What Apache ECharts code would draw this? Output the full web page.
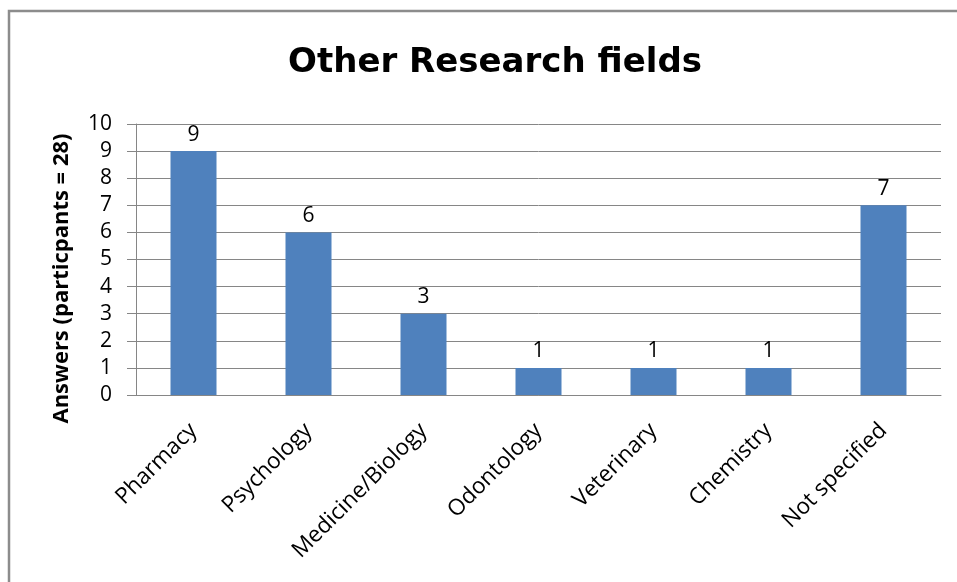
<!DOCTYPE html>
<html><head><meta charset="utf-8">
<script src="https://cdn.jsdelivr.net/npm/echarts@6/dist/echarts.min.js"></script>
<style>html,body{margin:0;padding:0;background:#fff}#c{width:957px;height:582px}</style>
</head><body><div id="c"></div>
<script>
const categories = ["Pharmacy","Psychology","Medicine/Biology","Odontology","Veterinary","Chemistry","Not specified"];
const answers = [9,6,3,1,1,1,7];
const yTicks = {min:0, max:10, interval:1};
const titleText = "Other Research fields";
const yName = "Answers (particpants = 28)";

const font = "'Open Sans', sans-serif";
const chart = echarts.init(document.getElementById('c'));
chart.setOption({
  animation:false,
  backgroundColor:'#fff',
  title:{text:titleText,left:490,top:41,textAlign:'center',
    textStyle:{fontFamily:"'DejaVu Sans', sans-serif",fontWeight:'bold',fontSize:34,color:'#000'}},
  graphic:[{type:'rect',shape:{x:9,y:11,width:1200,height:1200},
    style:{fill:'none',stroke:'#8c8c8c',lineWidth:2.5},silent:true}],
  grid:{left:136,right:16,top:124,bottom:187},
  xAxis:{type:'category',data:categories,
    axisLine:{lineStyle:{color:'#868686',width:1}},
    axisTick:{show:false},
    axisLabel:{rotate:45,interval:0,margin:32,fontFamily:font,fontSize:22.5,color:'#000'}},
  yAxis:{type:'value',min:yTicks.min,max:yTicks.max,interval:yTicks.interval,
    name:yName,nameLocation:'middle',nameGap:63,
    nameTextStyle:{fontFamily:font,fontWeight:'bold',fontSize:22,color:'#000',padding:[0,38,0,0]},
    axisLine:{show:true,lineStyle:{color:'#868686'}},
    axisTick:{show:true,length:9,lineStyle:{color:'#868686'}},
    splitLine:{lineStyle:{color:'#868686',width:1}},
    axisLabel:{fontFamily:font,fontSize:21,color:'#000',margin:24}},
  series:[{type:'bar',data:answers,barWidth:46,
    itemStyle:{color:'#4F81BD'},
    label:{show:true,position:'top',distance:6,fontFamily:font,fontSize:21,color:'#000'}}]
});
</script></body></html>
